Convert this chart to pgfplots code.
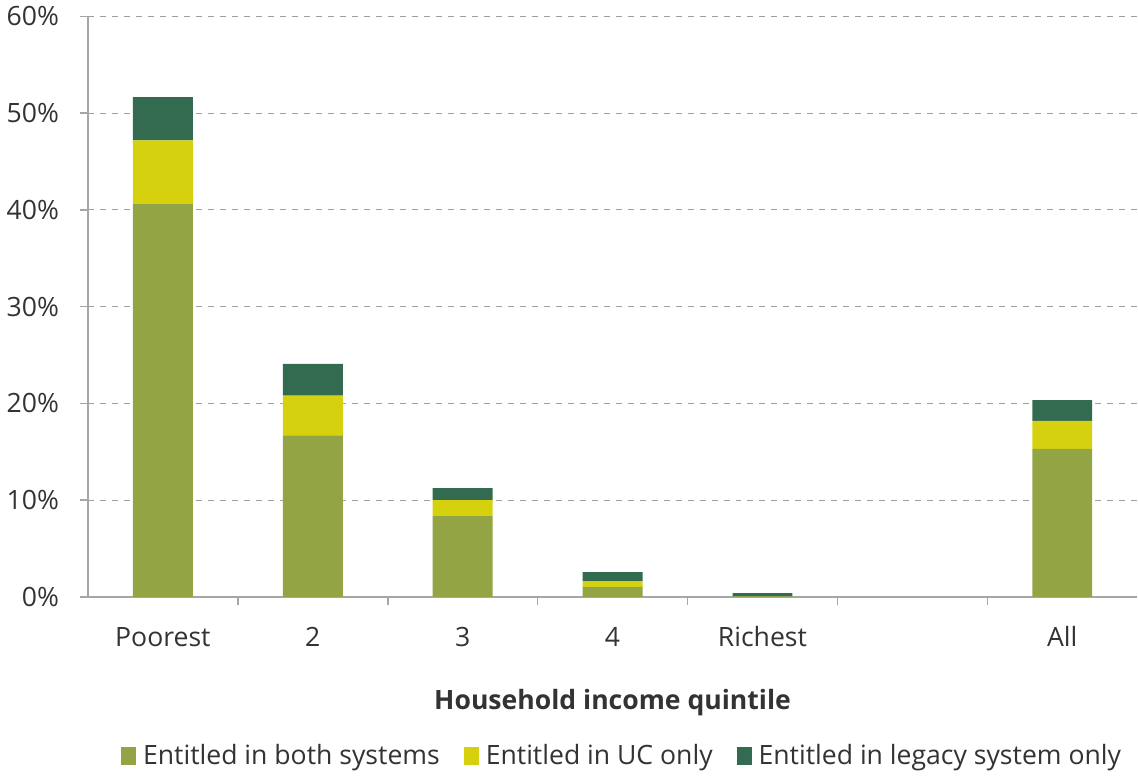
\documentclass[border=0pt]{standalone}
\usepackage{pgfplots}
\pgfplotsset{compat=1.18}
\usepackage{fontspec}
\setmainfont{Open Sans}
\definecolor{cboth}{HTML}{93A445}
\definecolor{cuc}{HTML}{D5D10F}
\definecolor{cleg}{HTML}{336B50}
\definecolor{txt}{HTML}{333333}
\begin{document}
\begin{tikzpicture}
\begin{axis}[
  scale only axis,
  width=525pt, height=290.5pt,
  ybar stacked,
  bar width=30pt,
  xmin=-0.5, xmax=6.5,
  ymin=0, ymax=60,
  ytick={0,10,...,60},
  yticklabel={\pgfmathprintnumber{\tick}\%},
  /pgf/number format/assume math mode=true,
  yticklabel style={xshift=-7pt},
  xtick={0.5,1.5,2.5,3.5,4.5,5.5},
  xticklabels={},
  x tick style={draw=gray!70, line width=0.8pt},
  xtick align=outside,
  xmajorgrids=false,
  extra x ticks={0,1,2,3,4,6},
  extra x tick labels={Poorest,2,3,4,Richest,All},
  extra x tick style={major tick length=0pt, grid=none,
     xticklabel style={yshift=-11pt, text height=10pt, text depth=3pt}},
  axis x line*=bottom,
  axis y line*=left,
  x axis line style={draw=gray!70, line width=0.8pt, -},
  y axis line style={draw=gray!70, line width=0.8pt, -},
  y tick style={draw=gray!70, line width=0.8pt},
  major tick length=4pt,
  tick align=outside,
  ymajorgrids,
  major grid style={draw=gray!75, dashed, line width=0.5pt},
  ticklabel style={font=\fontsize{13.3}{15}\selectfont, text=txt},
  xlabel={\textbf{Household income quintile}},
  xlabel style={font=\fontsize{13.3}{15}\selectfont, text=txt, yshift=-8pt},
  legend style={at={(0.51,-0.24)}, anchor=north, draw=none, legend columns=3,
    font=\fontsize{13.3}{15}\selectfont, text=txt,
    /tikz/every even column/.append style={column sep=10pt}},
  legend image code/.code={\fill[#1] (0pt,-4.5pt) rectangle (7.5pt,4.5pt);},
  clip=false,
]
\addplot[fill=cboth, draw=none] coordinates {(0,40.6) (1,16.7) (2,8.4) (3,1.05) (4,0.05) (6,15.3)};
\addplot[fill=cuc, draw=none] coordinates {(0,6.6) (1,4.1) (2,1.6) (3,0.6) (4,0.0) (6,2.9)};
\addplot[fill=cleg, draw=none] coordinates {(0,4.45) (1,3.3) (2,1.25) (3,0.93) (4,0.35) (6,2.15)};
\legend{\hspace{1.5pt}Entitled in both systems, \hspace{1.5pt}Entitled in UC only, \hspace{1.5pt}Entitled in legacy system only}
\end{axis}
\end{tikzpicture}
\end{document}
